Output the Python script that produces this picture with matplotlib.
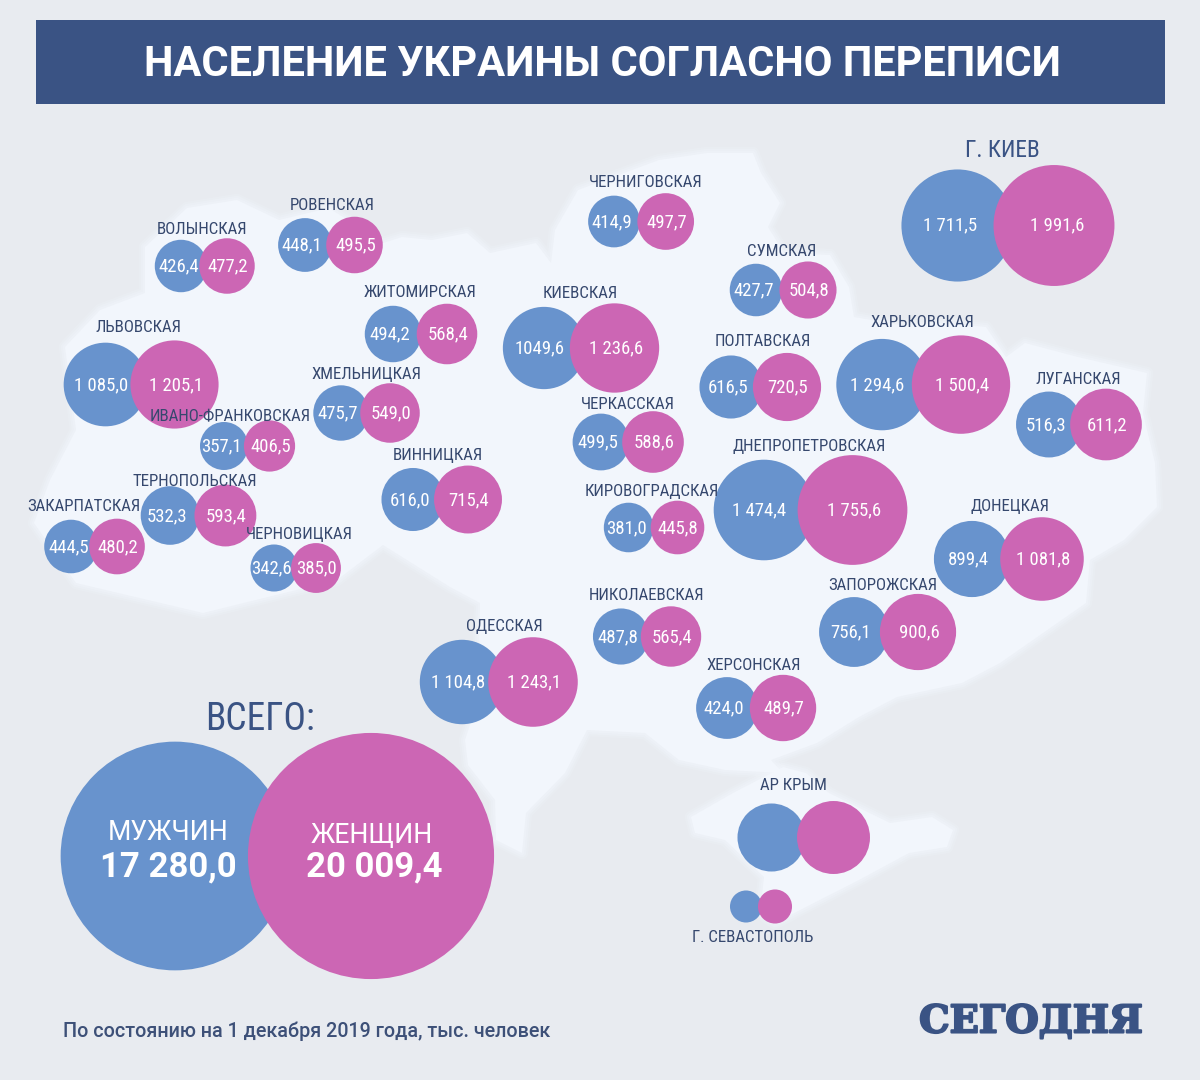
import matplotlib.pyplot as plt
import matplotlib.patheffects as pe
from matplotlib.patches import Circle, Polygon, Rectangle

# области: название, мужчины, женщины (тыс.)
regions = ["ВОЛЫНСКАЯ", "РОВЕНСКАЯ", "ЖИТОМИРСКАЯ", "КИЕВСКАЯ", "ЛЬВОВСКАЯ", "ИВАНО-ФРАНКОВСКАЯ",
           "ХМЕЛЬНИЦКАЯ", "ВИННИЦКАЯ", "ТЕРНОПОЛЬСКАЯ", "ЗАКАРПАТСКАЯ", "ЧЕРНОВИЦКАЯ", "ЧЕРНИГОВСКАЯ",
           "СУМСКАЯ", "ПОЛТАВСКАЯ", "ХАРЬКОВСКАЯ", "ЛУГАНСКАЯ", "ЧЕРКАССКАЯ", "ДНЕПРОПЕТРОВСКАЯ",
           "КИРОВОГРАДСКАЯ", "ДОНЕЦКАЯ", "ЗАПОРОЖСКАЯ", "НИКОЛАЕВСКАЯ", "ОДЕССКАЯ", "ХЕРСОНСКАЯ"]
men = [426.4, 448.1, 494.2, 1049.6, 1085.0, 357.1, 475.7, 616.0, 532.3, 444.5, 342.6, 414.9,
       427.7, 616.5, 1294.6, 516.3, 499.5, 1474.4, 381.0, 899.4, 756.1, 487.8, 1104.8, 424.0]
women = [477.2, 495.5, 568.4, 1236.6, 1205.1, 406.5, 549.0, 715.4, 593.4, 480.2, 385.0, 497.7,
         504.8, 720.5, 1500.4, 611.2, 588.6, 1755.6, 445.8, 1081.8, 900.6, 565.4, 1243.1, 489.7]

# расположение на карте (пиксели картинки)
men_x = [181, 305, 393, 544, 105.5, 224, 341, 413, 170, 71, 274, 614,
         756, 731, 882, 1049, 601, 764, 628.6, 972, 854, 621, 462, 727]
women_x = [227, 354.5, 447, 614.5, 174.5, 269.5, 390, 468, 225.4, 117, 316, 665.7,
           808, 787, 961, 1106, 653, 852.5, 677.5, 1042, 918, 671, 533, 783]
bubble_y = [266, 245, 334, 348, 384.5, 446, 413, 499.5, 515.5, 546.5, 568, 221.5,
            290, 387, 384.6, 424.5, 442, 510, 527.5, 559, 632, 636.5, 682, 708]
label_x = [202, 332, 420, 580, 138, 230, 366, 438, 195, 84, 299, 646,
           782, 763, 922, 1078, 628, 809, 652, 1010, 883, 647, 504, 753.5]
label_y = [228, 204, 291, 292, 326, 415, 373, 454, 479.5, 505, 533.5, 181,
           249.5, 339.5, 321, 377.5, 403, 445, 490, 505.5, 583.5, 593.5, 625.5, 664.5]

# Киев отдельно
kiev_men, kiev_women = 1711.5, 1991.6
# Крым и Севастополь на картинке без подписей, значения оценены по размеру кругов
crimea_men, crimea_women = 695, 800
sevastopol_men, sevastopol_women = 154, 174
total_men, total_women = 17280.0, 20009.4

mainland_x = [145, 187, 237, 279, 329, 383, 402, 432, 467, 490, 536, 551, 555, 578, 659, 707, 753, 761, 780, 768,
              784, 830, 849, 854, 900, 944, 986, 1006, 1025, 1078, 1147, 1143, 1155, 1157, 1124, 1090, 1086,
              1000, 962, 897, 859, 817, 771, 783, 725, 679, 645, 587, 565, 526, 522, 496, 495, 468, 465, 478,
              480, 450, 383, 337, 203, 76, 34, 50, 76, 65, 100, 145]
mainland_y = [247, 208, 200, 220, 208, 243, 237, 240, 233, 253, 243, 263, 230, 190, 160, 153, 153, 173, 203, 227,
              253, 255, 287, 317, 325, 323, 327, 357, 343, 357, 373, 413, 463, 507, 540, 560, 603,
              663, 683, 697, 717, 743, 760, 773, 770, 760, 733, 730, 773, 813, 853, 840, 800, 765, 740, 700,
              603, 587, 545, 580, 613, 583, 523, 480, 430, 347, 310, 293]
crimea_x = [691, 733, 783, 806, 829, 890, 932, 953, 947, 909, 859, 806, 775, 760, 764, 725, 695]
crimea_y = [817, 793, 767, 773, 793, 823, 817, 830, 847, 853, 880, 907, 923, 913, 877, 840, 833]

BLUE = "#6893cd"
PINK = "#cc66b4"
NAVY = "#3a5384"
INK = "#36486e"
LAND = "#f2f6fc"
NARROW = ["Roboto Condensed", "Roboto"]
VALUE_SIZE = 13.5
LABEL_SIZE = 12.2

# эти области на оригинале нарисованы крупнее остальных
region_scale = 1.27
scale_fix = {"ХЕРСОНСКАЯ": 1.5, "ЛУГАНСКАЯ": 1.45, "ДНЕПРОПЕТРОВСКАЯ": 1.31}


def fmt(v):
    # 1049,6 на оригинале без пробела
    if v == 1049.6:
        return "1049,6"
    return f"{v:,.1f}".replace(",", " ").replace(".", ",")


fig, ax = plt.subplots(figsize=(12, 10.8), dpi=100, facecolor="#e8ebf0")
ax.set_position([0, 0, 1, 1])
ax.set_xlim(0, 1200)
ax.set_ylim(1080, 0)
ax.axis("off")

# карта, края размыты несколькими обводками
for xs, ys in [(mainland_x, mainland_y), (crimea_x, crimea_y)]:
    pts = list(zip(xs, ys))
    for lw, a in [(9, 0.2), (6, 0.3), (3, 0.4)]:
        ax.add_patch(Polygon(pts, fc="none", ec=LAND, lw=lw, alpha=a, joinstyle="round", zorder=1))
    ax.add_patch(Polygon(pts, fc=LAND, ec="none", zorder=1.1))

# шапка
ax.add_patch(Rectangle((36, 20), 1129, 84, fc=NAVY, ec="none", zorder=2))
ax.text(602, 64, "НАСЕЛЕНИЕ УКРАИНЫ СОГЛАСНО ПЕРЕПИСИ", color="white", fontsize=30, fontweight="bold",
        family="Roboto", ha="center", va="center", zorder=5)


def pair(xm, xw, y, vm, vw, scale, z=3):
    rm = scale * vm ** 0.5
    rw = scale * vw ** 0.5
    ax.add_patch(Circle((xm, y), rm, fc=BLUE, ec="none", zorder=z))
    ax.add_patch(Circle((xw, y), rw, fc=PINK, ec="none", zorder=z + 0.1))
    return rm, rw


for name, vm, vw, xm, xw, y, lx, ly in zip(regions, men, women, men_x, women_x, bubble_y, label_x, label_y):
    rm, rw = pair(xm, xw, y, vm, vw, scale_fix.get(name, region_scale))
    ax.text(xm - 0.1 * rm, y + 0.5, fmt(vm), color="white", fontsize=VALUE_SIZE, family=NARROW,
            ha="center", va="center", zorder=6)
    ax.text(xw + 0.03 * rw, y + 0.5, fmt(vw), color="white", fontsize=VALUE_SIZE, family=NARROW,
            ha="center", va="center", zorder=6)
    ax.text(lx, ly + 1.5, name, color=INK, fontsize=LABEL_SIZE, family=NARROW, ha="center", va="center", zorder=7)

# г. Киев
pair(957.5, 1054, 225.5, kiev_men, kiev_women, 1.355)
ax.text(950, 225, fmt(kiev_men), color="white", fontsize=VALUE_SIZE, family=NARROW, ha="center", va="center", zorder=6)
ax.text(1057, 225, fmt(kiev_women), color="white", fontsize=VALUE_SIZE, family=NARROW, ha="center", va="center", zorder=6)
ax.text(1002, 150.5, "Г. КИЕВ", color=NAVY, fontsize=16.8, family=NARROW, ha="center", va="center", zorder=7)

# Крым, Севастополь
pair(771.5, 833.5, 837.5, crimea_men, crimea_women, 1.29)
pair(746, 775, 906.5, sevastopol_men, sevastopol_women, 1.29)
ax.text(793.5, 786, "АР КРЫМ", color=INK, fontsize=LABEL_SIZE, family=NARROW, ha="center", va="center", zorder=7)
ax.text(753, 938, "Г. СЕВАСТОПОЛЬ", color=INK, fontsize=LABEL_SIZE, family=NARROW, ha="center", va="center", zorder=7)

# всего
pair(175, 371, 856, total_men, total_women, 0.87)
ax.text(260, 720, "ВСЕГО:", color=NAVY, fontsize=27, family=NARROW, ha="center", va="center", zorder=7)
ax.text(168, 832, "МУЖЧИН", color="white", fontsize=19.2, family="Roboto", ha="center", va="center", zorder=6)
ax.text(372, 835, "ЖЕНЩИН", color="white", fontsize=19.2, family="Roboto", ha="center", va="center", zorder=6)
ax.text(168, 867, fmt(total_men), color="white", fontsize=25, fontweight="bold", family="Roboto",
        ha="center", va="center", zorder=6)
ax.text(374, 867, fmt(total_women), color="white", fontsize=25, fontweight="bold", family="Roboto",
        ha="center", va="center", zorder=6)

# подвал
ax.text(63, 1031, "По состоянию на 1 декабря 2019 года, тыс. человек", color="#3d5078", fontsize=14.2,
        family="Roboto", fontweight="medium", ha="left", va="center", zorder=6)
ax.text(1031, 1022, "СЕГОДНЯ", color=NAVY, fontsize=27.6, fontweight="bold", family="DejaVu Serif",
        ha="center", va="center", zorder=6,
        path_effects=[pe.withStroke(linewidth=1.5, foreground=NAVY)])

fig.savefig("out.png", dpi=100, facecolor=fig.get_facecolor())
